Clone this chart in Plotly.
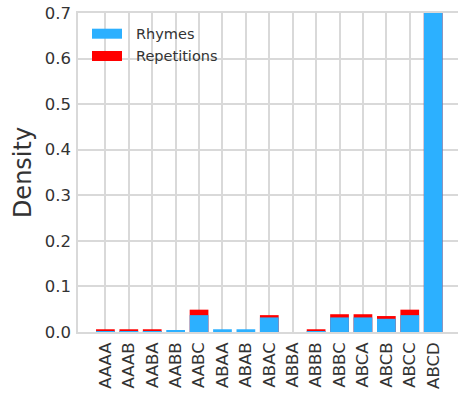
import plotly.graph_objects as go

# Rhyme-scheme categories for four-line stanzas
schemes = ["AAAA", "AAAB", "AABA", "AABB", "AABC", "ABAA", "ABAB", "ABAC",
           "ABBA", "ABBB", "ABBC", "ABCA", "ABCB", "ABCC", "ABCD"]

# Density of each scheme when lines are matched by rhyme
rhymes = [0.002, 0.002, 0.002, 0.003, 0.037, 0.006, 0.006, 0.032,
          0.0, 0.002, 0.032, 0.032, 0.029, 0.037, 0.778]

# Density of each scheme when lines are matched by word repetition
repetitions = [0.006, 0.006, 0.006, 0.0, 0.049, 0.0, 0.0, 0.037,
               0.0, 0.006, 0.039, 0.039, 0.035, 0.049, 0.727]

y_ticks = [0.0, 0.1, 0.2, 0.3, 0.4, 0.5, 0.6, 0.7]

BLUE = "#2cb0ff"
RED = "#ff0000"
GRID = "#d9d9d9"
TEXT = "#333333"
FONT = "DejaVu Sans"

fig = go.Figure()
x_idx = list(range(len(schemes)))

# Repetitions sit behind, rhymes are drawn over them
fig.add_trace(go.Bar(x=x_idx, y=repetitions, name="Repetitions", width=0.8,
                     marker=dict(color=RED, line=dict(width=0)),
                     showlegend=False))
fig.add_trace(go.Bar(x=x_idx, y=rhymes, name="Rhymes", width=0.8,
                     marker=dict(color=BLUE, line=dict(width=0)),
                     showlegend=False))

fig.update_layout(
    barmode="overlay",
    width=458, height=396,
    margin=dict(l=78, r=0, t=13, b=64),
    plot_bgcolor="white", paper_bgcolor="white",
    font=dict(family=FONT, color=TEXT),
)

fig.update_xaxes(
    tickmode="array", tickvals=x_idx, ticktext=schemes,
    tickangle=-90, tickfont=dict(size=16.5, family=FONT, color=TEXT),
    range=[-1.17, 15.06],
    showgrid=True, gridcolor=GRID, gridwidth=1.5,
    showline=True, linecolor=GRID, linewidth=1.5,
    mirror=True,
    ticks="", ticklabelstandoff=2, zeroline=False,
)

fig.update_yaxes(
    range=[0, 0.7], tickmode="array", tickvals=y_ticks,
    tickformat=".1f", tickfont=dict(size=16.5, family=FONT, color=TEXT),
    showgrid=True, gridcolor=GRID, gridwidth=1.5,
    showline=True, linecolor=GRID, linewidth=1.5,
    ticks="", ticklabelstandoff=2, zeroline=False,
    title=dict(text="Density", font=dict(size=24, family=FONT, color=TEXT),
               standoff=6),
)

# Legend drawn as patches with labels in the upper-left corner
legend_items = [("Rhymes", BLUE, 33.7), ("Repetitions", RED, 56.0)]
W, H = 458, 396
for label, color, yc in legend_items:
    fig.add_shape(type="rect", xref="paper", yref="paper",
                  x0=(92 - 78) / (W - 78), x1=(122 - 78) / (W - 78),
                  y0=(396 - 64 - (yc + 5)) / (H - 13 - 64),
                  y1=(396 - 64 - (yc - 5)) / (H - 13 - 64),
                  fillcolor=color, line=dict(width=0), layer="above")
    fig.add_annotation(xref="paper", yref="paper",
                       x=(134 - 78) / (W - 78),
                       y=(396 - 64 - yc) / (H - 13 - 64),
                       text=label, showarrow=False, xanchor="left",
                       yanchor="middle",
                       font=dict(size=14.5, family=FONT, color=TEXT))

fig.write_html("out.html")
